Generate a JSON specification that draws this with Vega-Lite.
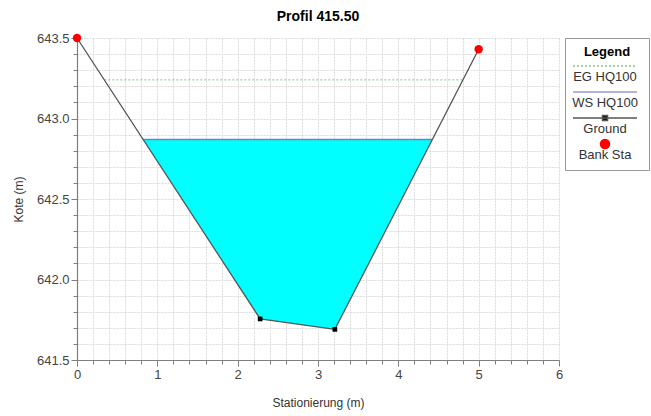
{
  "$schema": "https://vega.github.io/schema/vega-lite/v6.json",
  "width": 482,
  "height": 322,
  "autosize": {"type": "none"},
  "padding": {"left": 77, "top": 38, "right": 92, "bottom": 56},
  "title": {
    "text": "Profil 415.50",
    "font": "Liberation Sans",
    "fontSize": 14,
    "fontWeight": "bold",
    "color": "#000000",
    "anchor": "middle",
    "offset": 8
  },
  "datasets": {
    "ground": [
      {"station": 0.0, "elevation": 643.5},
      {"station": 2.28, "elevation": 641.755},
      {"station": 3.21, "elevation": 641.69},
      {"station": 5.0, "elevation": 643.43}
    ],
    "water": [
      {"station": 0.82, "ws": 642.87, "ground": 642.87},
      {"station": 2.28, "ws": 642.87, "ground": 641.755},
      {"station": 3.21, "ws": 642.87, "ground": 641.69},
      {"station": 4.42, "ws": 642.87, "ground": 642.87}
    ],
    "energy": [
      {"station": 0.34, "elevation": 643.24},
      {"station": 4.8, "elevation": 643.24}
    ],
    "surface": [
      {"station": 0.82, "elevation": 642.87},
      {"station": 4.42, "elevation": 642.87}
    ],
    "bank": [
      {"station": 0.0, "elevation": 643.5, "series": "Bank Sta"},
      {"station": 5.0, "elevation": 643.43, "series": "Bank Sta"}
    ]
  },
  "encoding": {
    "x": {
      "field": "station",
      "type": "quantitative",
      "title": "Stationierung (m)",
      "scale": {"domain": [0, 6], "nice": false, "zero": false},
      "axis": {
        "values": [0, 0.2, 0.4, 0.6, 0.8, 1, 1.2, 1.4, 1.6, 1.8, 2, 2.2, 2.4, 2.6, 2.8, 3, 3.2, 3.4, 3.6, 3.8, 4, 4.2, 4.4, 4.6, 4.8, 5, 5.2, 5.4, 5.6, 5.8, 6],
        "labelExpr": "abs(datum.value - round(datum.value)) < 0.01 ? format(datum.value, 'd') : ''",
        "tickSize": {"condition": {"test": "abs(datum.value - round(datum.value)) < 0.01", "value": 6}, "value": 4},
        "labelOverlap": false,
        "labelFlush": false,
        "titlePadding": 16
      }
    },
    "y": {
      "field": "elevation",
      "type": "quantitative",
      "title": "Kote (m)",
      "scale": {"domain": [641.5, 643.5], "nice": false, "zero": false},
      "axis": {
        "values": [641.5, 641.6, 641.7, 641.8, 641.9, 642, 642.1, 642.2, 642.3, 642.4, 642.5, 642.6, 642.7, 642.8, 642.9, 643, 643.1, 643.2, 643.3, 643.4, 643.5],
        "labelExpr": "abs(datum.value * 2 - round(datum.value * 2)) < 0.01 ? format(datum.value, '.1f') : ''",
        "tickSize": {"condition": {"test": "abs(datum.value * 2 - round(datum.value * 2)) < 0.01", "value": 6}, "value": 4},
        "labelOverlap": false,
        "labelFlush": false,
        "titlePadding": 11
      }
    }
  },
  "layer": [
    {
      "data": {"name": "water"},
      "mark": {"type": "area", "color": "#00ffff", "opacity": 1},
      "encoding": {
        "y": {"field": "ws", "type": "quantitative", "title": "Kote (m)"},
        "y2": {"field": "ground"}
      }
    },
    {
      "data": {"name": "surface"},
      "mark": {"type": "line", "color": "#6f7fc8", "strokeWidth": 1.5},
      "encoding": {}
    },
    {
      "data": {"name": "energy"},
      "mark": {"type": "line", "color": "#86c686", "strokeWidth": 1, "strokeDash": [2, 2]},
      "encoding": {}
    },
    {
      "data": {"name": "ground"},
      "mark": {"type": "line", "color": "#555555", "strokeWidth": 1.3},
      "encoding": {}
    },
    {
      "data": {"name": "ground"},
      "mark": {"type": "point", "shape": "square", "filled": true, "color": "#000000", "size": 22, "opacity": 1},
      "encoding": {}
    },
    {
      "data": {"name": "bank"},
      "mark": {"type": "circle", "color": "#ff0000", "size": 70, "opacity": 1},
      "encoding": {}
    },
    {
      "data": {"name": "bank"},
      "transform": [{"filter": "false"}],
      "mark": {"type": "point", "filled": true, "opacity": 1, "size": 576, "strokeWidth": 1.5},
      "encoding": {
        "fill": {
          "field": "series",
          "type": "nominal",
          "scale": {
            "domain": ["EG HQ100", "WS HQ100", "Ground", "Bank Sta"],
            "range": ["transparent", "transparent", "#000000", "#ff0000"]
          },
          "legend": {"title": "Legend"}
        },
        "stroke": {
          "field": "series",
          "type": "nominal",
          "scale": {
            "domain": ["EG HQ100", "WS HQ100", "Ground", "Bank Sta"],
            "range": ["#86c686", "#9a9ad6", "#555555", "#ff0000"]
          },
          "legend": {"title": "Legend"}
        },
        "shape": {
          "field": "series",
          "type": "nominal",
          "scale": {
            "domain": ["EG HQ100", "WS HQ100", "Ground", "Bank Sta"],
            "range": [
              "M0,-1.3M-2.67,-0.92H-2.5M-2.34,-0.92H-2.17M-2,-0.92H-1.83M-1.67,-0.92H-1.5M-1.34,-0.92H-1.17M-1,-0.92H-0.83M-0.67,-0.92H-0.5M-0.34,-0.92H-0.17M0,-0.92H0.17M0.33,-0.92H0.5M0.66,-0.92H0.83M1,-0.92H1.17M1.33,-0.92H1.5M1.66,-0.92H1.83M2,-0.92H2.17M2.33,-0.92H2.5",
              "M0,-1.3M-2.67,-0.92H2.67",
              "M0,-1.3M-2.67,-0.92H2.67M-0.21,-1.13H0.21V-0.71H-0.21Z",
              "M0,-1.3M-0.375,-0.92A0.375,0.375,0,1,0,0.375,-0.92A0.375,0.375,0,1,0,-0.375,-0.92Z"
            ]
          },
          "legend": {"title": "Legend"}
        }
      }
    }
  ],
  "config": {
    "view": {"stroke": null},
    "font": "Liberation Sans",
    "axis": {
      "labelFont": "Liberation Sans",
      "labelFontSize": 13,
      "labelColor": "#444444",
      "titleFont": "Liberation Sans",
      "titleFontSize": 12,
      "titleFontWeight": "normal",
      "titleColor": "#333333",
      "domainColor": "#7f7f7f",
      "domainWidth": 1.2,
      "tickColor": "#7f7f7f",
      "tickWidth": 1,
      "labelPadding": 2,
      "grid": true,
      "gridColor": "#dcdcdc",
      "gridDash": [2, 1],
      "gridWidth": 1
    },
    "legend": {
      "orient": "right",
      "offset": 6,
      "direction": "vertical",
      "gridAlign": "all",
      "strokeColor": "#999999",
      "fillColor": "#ffffff",
      "padding": 8,
      "titleFont": "Liberation Sans",
      "titleFontSize": 13,
      "titleFontWeight": "bold",
      "titleColor": "#000000",
      "titleAnchor": "middle",
      "titlePadding": 5,
      "labelFont": "Liberation Sans",
      "labelFontSize": 13,
      "labelColor": "#333333",
      "labelAlign": "center",
      "labelBaseline": "middle",
      "labelOffset": -13,
      "symbolOffset": 19,
      "symbolSize": 576,
      "symbolStrokeWidth": 1.5,
      "rowPadding": 0
    }
  }
}
